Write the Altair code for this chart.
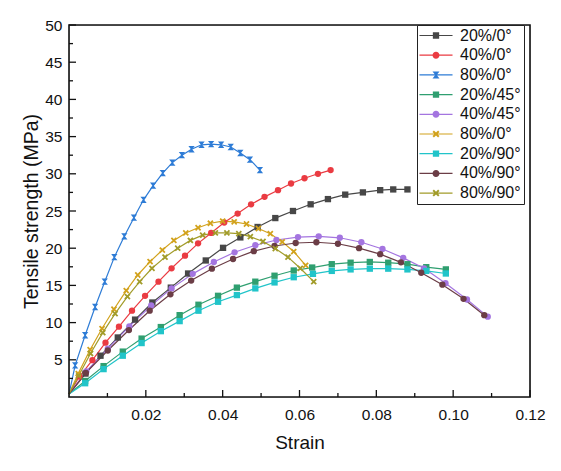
import altair as alt
import pandas as pd

# ---------------- data ----------------
series_keys = ["20%/0°", "40%/0°", "80%/0°", "20%/45°", "40%/45°", "80%/0°*",
               "20%/90°", "40%/90°", "80%/90°"]
colors = ["#474747", "#EA3B42", "#2E7CD6", "#2F9F70", "#A475E0", "#D2A21C",
          "#21C4C9", "#6B3D46", "#A29C2A"]

strain_20_0 = [0, 0.0043, 0.0082, 0.0127, 0.0172, 0.0217, 0.0265, 0.0310, 0.0356, 0.0401, 0.0446,
               0.0491, 0.0537, 0.0583, 0.0629, 0.0674, 0.0719, 0.0765, 0.0810, 0.0844, 0.0881]
stress_20_0 = [0.4, 3.15, 5.55, 8.0, 10.4, 12.7, 14.7, 16.6, 18.35, 20.05, 21.45,
               22.85, 24.05, 25.0, 25.9, 26.6, 27.2, 27.5, 27.8, 27.9, 27.9]

strain_40_0 = [0, 0.0027, 0.0061, 0.0095, 0.0130, 0.0164, 0.0198, 0.0233, 0.0267, 0.0302, 0.0336,
               0.0370, 0.0404, 0.0439, 0.0474, 0.0509, 0.0544, 0.0578, 0.0613, 0.0648, 0.0681]
stress_40_0 = [0.4, 2.75, 4.95, 7.3, 9.45, 11.6, 13.6, 15.5, 17.3, 19.0, 20.65,
               22.05, 23.45, 24.65, 25.9, 26.9, 27.8, 28.7, 29.4, 30.0, 30.5]

strain_80_0 = [0, 0.0016, 0.0042, 0.0068, 0.0093, 0.0118, 0.0144, 0.0169, 0.0194, 0.0219, 0.0244,
               0.0269, 0.0294, 0.0319, 0.0345, 0.0370, 0.0396, 0.0421, 0.0446, 0.0471, 0.0497]
stress_80_0 = [0.4, 4.25, 8.3, 12.1, 15.5, 18.8, 21.6, 24.1, 26.5, 28.4, 30.1,
               31.5, 32.5, 33.3, 33.9, 34.0, 33.9, 33.6, 32.8, 31.9, 30.5]

strain_20_45 = [0, 0.0042, 0.0090, 0.0140, 0.0189, 0.0239, 0.0288, 0.0337, 0.0388, 0.0437, 0.0485,
                0.0535, 0.0585, 0.0633, 0.0684, 0.0733, 0.0783, 0.0831, 0.0881, 0.0930, 0.0981]
stress_20_45 = [0.4, 2.15, 4.15, 6.1, 7.85, 9.4, 11.0, 12.4, 13.6, 14.7, 15.5,
                16.3, 17.0, 17.4, 17.85, 18.05, 18.15, 18.05, 17.85, 17.45, 17.15]

strain_40_45 = [0, 0.0045, 0.0101, 0.0157, 0.0214, 0.0267, 0.0322, 0.0377, 0.0431, 0.0485, 0.0540,
                0.0596, 0.0650, 0.0705, 0.0761, 0.0816, 0.0870, 0.0924, 0.0980, 0.1036, 0.1090]
stress_40_45 = [0.4, 3.45, 6.5, 9.5, 12.3, 14.6, 16.55, 18.15, 19.45, 20.4, 21.1,
                21.5, 21.6, 21.4, 20.8, 19.9, 18.7, 17.3, 15.3, 13.1, 10.8]

strain_80_0b = [0, 0.0024, 0.0055, 0.0086, 0.0117, 0.0149, 0.0179, 0.0211, 0.0243, 0.0273, 0.0304,
                0.0336, 0.0368, 0.0400, 0.0430, 0.0462, 0.0493, 0.0524, 0.0555, 0.0585, 0.0616]
stress_80_0b = [0.4, 3.15, 6.35, 9.2, 11.8, 14.3, 16.4, 18.2, 19.75, 21.05, 22.05,
                22.75, 23.35, 23.65, 23.55, 23.25, 22.65, 21.95, 20.85, 19.55, 17.7]

strain_20_90 = [0, 0.0042, 0.0090, 0.0140, 0.0189, 0.0239, 0.0288, 0.0337, 0.0388, 0.0437, 0.0485,
                0.0535, 0.0585, 0.0635, 0.0684, 0.0733, 0.0783, 0.0831, 0.0881, 0.0930, 0.0981]
stress_20_90 = [0.4, 1.85, 3.75, 5.55, 7.25, 8.85, 10.2, 11.6, 12.8, 13.7, 14.6,
                15.4, 16.1, 16.55, 16.95, 17.15, 17.25, 17.25, 17.15, 16.95, 16.6]

strain_40_90 = [0, 0.0044, 0.0101, 0.0156, 0.0210, 0.0264, 0.0318, 0.0372, 0.0427, 0.0481, 0.0535,
                0.0590, 0.0644, 0.0700, 0.0755, 0.0810, 0.0864, 0.0917, 0.0972, 0.1027, 0.1081]
stress_40_90 = [0.4, 3.25, 6.25, 9.0, 11.6, 13.8, 15.65, 17.25, 18.55, 19.6, 20.3,
                20.7, 20.8, 20.6, 20.0, 19.2, 18.1, 16.7, 15.1, 13.2, 11.0]

strain_80_90 = [0, 0.0025, 0.0056, 0.0088, 0.0120, 0.0152, 0.0184, 0.0216, 0.0250, 0.0283, 0.0316,
                0.0348, 0.0381, 0.0411, 0.0442, 0.0472, 0.0505, 0.0537, 0.0570, 0.0602, 0.0637]
stress_80_90 = [0.4, 2.85, 5.85, 8.65, 11.2, 13.5, 15.5, 17.3, 18.8, 20.0, 21.05,
                21.75, 22.05, 22.05, 21.95, 21.55, 20.9, 19.95, 18.8, 17.3, 15.5]

x_major = [0.02, 0.04, 0.06, 0.08, 0.10, 0.12]
x_minor = [0.01, 0.03, 0.05, 0.07, 0.09, 0.11]
y_major = [5, 10, 15, 20, 25, 30, 35, 40, 45, 50]
y_minor = [2.5, 7.5, 12.5, 17.5, 22.5, 27.5, 32.5, 37.5, 42.5, 47.5]

# frame corners (scale domain ends), drawn as one closed polyline
frame_strain = [0, 0.12, 0.12, 0, 0]
frame_stress = [0, 0, 50, 50, 0]

# ---------------- build table ----------------
all_strain = [strain_20_0, strain_40_0, strain_80_0, strain_20_45, strain_40_45,
              strain_80_0b, strain_20_90, strain_40_90, strain_80_90]
all_stress = [stress_20_0, stress_40_0, stress_80_0, stress_20_45, stress_40_45,
              stress_80_0b, stress_20_90, stress_40_90, stress_80_90]
rows = []
for key, xs, ys in zip(series_keys, all_strain, all_stress):
    for i, (a, b) in enumerate(zip(xs, ys)):
        rows.append({"series": key, "strain": a, "stress": b, "idx": i})
df = pd.DataFrame(rows)

frame_df = pd.DataFrame({"strain": frame_strain, "stress": frame_stress,
                         "idx": list(range(len(frame_strain)))})

# marker shapes
HOUR = "M-1,-1H1L0.2,0L1,1H-1L-0.2,0Z"
XSH = "M-1,-0.6L-0.6,-1L0,-0.4L0.6,-1L1,-0.6L0.4,0L1,0.6L0.6,1L0,0.4L-0.6,1L-1,0.6L-0.4,0Z"
plot_shapes = ["square", "circle", HOUR, "square", "circle", XSH, "square", "circle", XSH]

LINE = "M-2.36,-0.085H2.36V0.085H-2.36Z"
SQ_L = "M-0.45,-0.45H0.45V0.45H-0.45Z"
CI_L = "M-0.5,0A0.5,0.5,0,1,1,0.5,0A0.5,0.5,0,1,1,-0.5,0Z"
HO_L = "M-0.5,-0.5H0.5L0.1,0L0.5,0.5H-0.5L-0.1,0Z"
X_L = ("M-0.5,-0.3L-0.3,-0.5L0,-0.2L0.3,-0.5L0.5,-0.3L0.2,0L0.5,0.3L0.3,0.5L0,0.2"
       "L-0.3,0.5L-0.5,0.3L-0.2,0Z")
legend_shapes = [LINE + s for s in [SQ_L, CI_L, HO_L, SQ_L, CI_L, X_L, SQ_L, CI_L, X_L]]

FONT = "Liberation Sans"
INK = "#111111"
TICK = "#111111"
xscale = alt.Scale(domain=[0, 0.12], nice=False, zero=False)
yscale = alt.Scale(domain=[0, 50], nice=False)

xaxis = alt.Axis(values=x_major, format=".2f", title="Strain", grid=False, ticks=False,
                 tickSize=0, domain=False,
                 labelFontSize=15.5, labelPadding=10,
                 labelFlush=False, labelOverlap=False, labelColor=INK,
                 titleFontSize=19, titleFontWeight="normal", titlePadding=11,
                 titleColor=INK, labelFont=FONT, titleFont=FONT)
yaxis = alt.Axis(values=y_major, format="d", title="Tensile strength (MPa)", grid=False,
                 ticks=False, tickSize=0, domain=False,
                 labelFontSize=15.5, labelPadding=7,
                 labelFlush=False, labelOverlap=False, labelColor=INK,
                 titleFontSize=19.5, titleFontWeight="normal", titlePadding=3,
                 titleColor=INK, labelFont=FONT, titleFont=FONT)

cscale = alt.Scale(domain=series_keys, range=colors)

base = alt.Chart(df)

lines = base.mark_line(strokeWidth=1.2).encode(
    x=alt.X("strain:Q", scale=xscale, axis=xaxis),
    y=alt.Y("stress:Q", scale=yscale, axis=yaxis),
    color=alt.Color("series:N", scale=cscale, legend=None),
    detail="series:N",
    order="idx:Q",
)

points = base.mark_point(filled=True, size=40, opacity=1).encode(
    x=alt.X("strain:Q", scale=xscale, axis=xaxis),
    y=alt.Y("stress:Q", scale=yscale, axis=yaxis),
    color=alt.Color("series:N", scale=cscale, legend=None),
    shape=alt.Shape("series:N", scale=alt.Scale(domain=series_keys, range=plot_shapes),
                    legend=None),
).transform_filter("datum.strain > 0")

leg = alt.Legend(orient="none", legendX=348, legendY=0, direction="vertical", title=None,
                 labelFont=FONT, labelFontSize=16, labelColor=INK,
                 labelExpr="replace(datum.label, '*', '')",
                 symbolSize=196, symbolOffset=8.5, labelOffset=16, padding=2.5,
                 rowPadding=3.7, strokeColor="#222", fillColor="white",
                 symbolStrokeWidth=0, symbolOpacity=1, labelLimit=300)

legend_layer = base.mark_point(filled=True, size=196, opacity=1).encode(
    x=alt.X("strain:Q", scale=xscale, axis=xaxis),
    y=alt.Y("stress:Q", scale=yscale, axis=yaxis),
    color=alt.Color("series:N", scale=cscale, legend=leg),
    shape=alt.Shape("series:N", scale=alt.Scale(domain=series_keys, range=legend_shapes),
                    legend=leg),
).transform_filter("datum.strain < -1")

H = 372
W = 461
xmaj = alt.Chart(pd.DataFrame({"strain": x_major})).mark_rule(color=TICK, strokeWidth=1.3).encode(
    x=alt.X("strain:Q", scale=xscale, axis=xaxis), y=alt.value(H), y2=alt.value(H - 7))
xmin = alt.Chart(pd.DataFrame({"strain": x_minor})).mark_rule(color=TICK, strokeWidth=1.3).encode(
    x=alt.X("strain:Q", scale=xscale, axis=xaxis), y=alt.value(H), y2=alt.value(H - 4))
ymaj = alt.Chart(pd.DataFrame({"stress": y_major})).mark_rule(color=TICK, strokeWidth=1.3).encode(
    y=alt.Y("stress:Q", scale=yscale, axis=yaxis), x=alt.value(0), x2=alt.value(7))
ymin = alt.Chart(pd.DataFrame({"stress": y_minor})).mark_rule(color=TICK, strokeWidth=1.3).encode(
    y=alt.Y("stress:Q", scale=yscale, axis=yaxis), x=alt.value(0), x2=alt.value(4))

frame = alt.Chart(frame_df).mark_line(color=TICK, strokeWidth=1.6, strokeCap="square").encode(
    x=alt.X("strain:Q", scale=xscale, axis=xaxis),
    y=alt.Y("stress:Q", scale=yscale, axis=yaxis),
    order="idx:Q",
)

chart = alt.layer(lines, points, xmaj, xmin, ymaj, ymin, frame,
                  legend_layer).resolve_scale(
    color="independent", shape="independent"
).properties(
    width=W, height=H,
    padding={"left": 61, "top": 17, "right": 22, "bottom": 60},
    autosize=alt.AutoSizeParams(type="none"),
    background="white",
).configure_view(
    stroke=None
).configure(font=FONT)

chart.save("out.html", embed_options={"renderer": "svg", "actions": False})
